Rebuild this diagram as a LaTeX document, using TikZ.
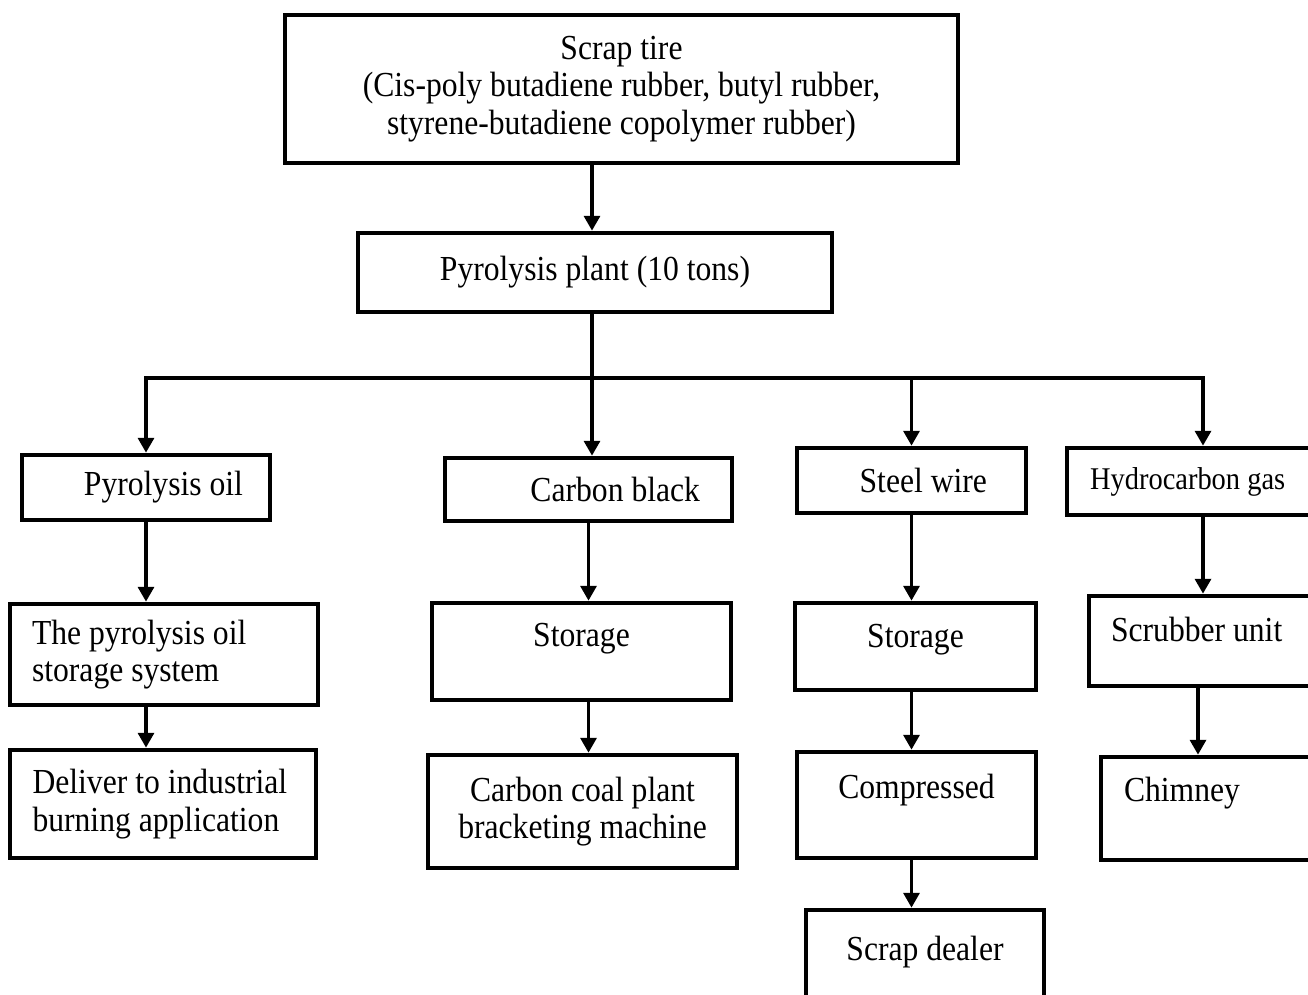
\documentclass[tikz,border=0pt]{standalone}
\usepackage{fontspec}
\setmainfont{Liberation Serif}[FakeStretch=0.9]
\usetikzlibrary{arrows.meta,positioning,calc}

\begin{document}
\begin{tikzpicture}[x=0.02cm, y=-0.02cm,
    font=\fontsize{20}{21.5}\selectfont,
    >={Triangle[width=9pt,length=8.5pt]},
    bx/.style={draw, line width=2.6pt, inner sep=0pt, align=center},
    ar/.style={->, line width=2.2pt}]
\path[use as bounding box, clip] (0,0) rectangle (1308,994);
% top of the chain
\node[bx, minimum width=13.46cm, minimum height=2.96cm] (tire) at (621.5,89)
    {Scrap tire\\(Cis-poly butadiene rubber, butyl rubber,\\styrene-butadiene copolymer rubber)};
\node[bx, minimum width=9.48cm, minimum height=1.58cm] (plant) at (595,272.5) {Pyrolysis plant (10 tons)};
\coordinate (bus) at (592,378);
% products
\node[bx, minimum width=4.96cm, minimum height=1.30cm, align=flush right, text width=3.88cm] (oil) at (146,487.5) {Pyrolysis oil};
\node[bx, minimum width=5.74cm, minimum height=1.26cm, align=flush right, text width=4.46cm] (cb) at (588.5,489.5) {Carbon black};
\node[bx, minimum width=4.58cm, minimum height=1.30cm, align=flush right, text width=3.02cm] (steel) at (911.5,480.5) {Steel wire};
\node[bx, minimum width=5.44cm, minimum height=1.34cm, align=flush left, text width=4.52cm,
      font=\fontsize{18}{21.5}\selectfont] (hydro) at (1203,481.5) {Hydrocarbon gas};
% oil branch
\node[bx, minimum width=6.16cm, minimum height=2.02cm, align=flush left, text width=5.28cm] (ostore) at (164,654.5) {The pyrolysis oil\\storage system};
\node[bx, minimum width=6.12cm, minimum height=2.16cm, align=flush left, text width=5.22cm] (deliver) at (163,804) {Deliver to industrial\\burning application};
% carbon branch
\node[bx, minimum width=5.98cm, minimum height=1.94cm] (cstore) at (581.5,651.5) {Storage\\[-3pt]~};
\node[bx, minimum width=6.18cm, minimum height=2.26cm] (coal) at (582.5,811.5) {Carbon coal plant\\bracketing machine};
% steel branch
\node[bx, minimum width=4.82cm, minimum height=1.74cm] (sstore) at (915.5,646.5) {Storage\\[-9pt]~};
\node[bx, minimum width=4.78cm, minimum height=2.12cm] (comp) at (916.5,805) {Compressed\\~};
\node[bx, minimum width=4.76cm, minimum height=2.28cm] (dealer) at (925,967) {Scrap dealer\\~};
% gas branch
\node[bx, minimum width=5.02cm, minimum height=1.80cm, align=flush left, text width=4.14cm] (scrub) at (1214.5,641) {Scrubber unit\\[-8pt]~};
\node[bx, minimum width=4.78cm, minimum height=2.06cm, align=flush left, text width=3.86cm] (chim) at (1220.5,808.5) {Chimney\\~};
\coordinate (sc) at (1198,0);
% connectors
\draw[ar] (tire.south -| bus) -- (plant.north -| bus);
\draw[line width=2.2pt] (plant.south -| bus) -- (bus);
\draw[<->, line width=2.2pt] (oil.north) -- (oil.north |- bus) -- (hydro.north |- bus) -- (hydro.north);
\draw[ar] (bus) -- (bus |- cb.north);
\draw[ar] (steel.north |- bus) -- (steel.north);
\draw[ar] (oil.south) -- (oil.south |- ostore.north);
\draw[ar] (ostore.south -| oil.south) -- (deliver.north -| oil.south);
\draw[ar] (cb.south) -- (cb.south |- cstore.north);
\draw[ar] (cstore.south -| cb.south) -- (coal.north -| cb.south);
\draw[ar] (steel.south) -- (steel.south |- sstore.north);
\draw[ar] (sstore.south -| steel.south) -- (comp.north -| steel.south);
\draw[ar] (comp.south -| steel.south) -- (dealer.north -| steel.south);
\draw[ar] (hydro.south) -- (hydro.south |- scrub.north);
\draw[ar] (scrub.south -| sc) -- (chim.north -| sc);
\end{tikzpicture}
\end{document}
